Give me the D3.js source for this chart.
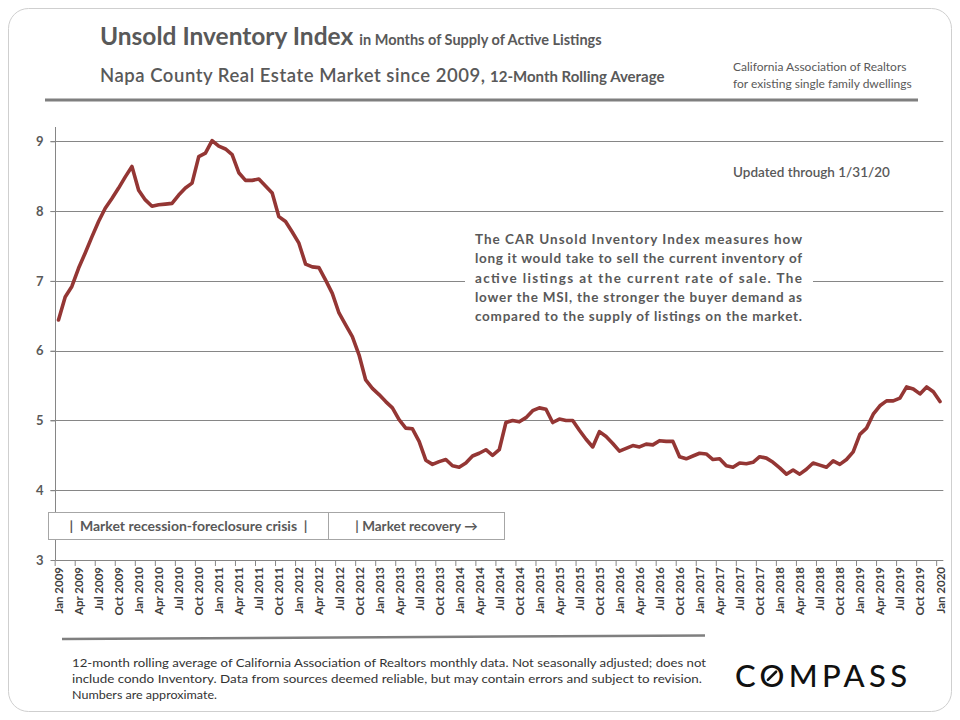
<!DOCTYPE html>
<html><head><meta charset="utf-8">
<script src="https://cdn.jsdelivr.net/npm/d3@7"></script>
<style>
body{margin:0;background:#fff;}
svg{display:block;font-family:Lato,'Open Sans',sans-serif;}
</style>
</head><body>
<svg id="chart" width="960" height="720"></svg>
<script>
// Monthly 12-month rolling MSI, Jan 2009 .. Jan 2020
const msiValues = [
6.44,6.77,6.92,7.18,7.40,7.63,7.85,8.04,8.18,8.33,8.49,8.64,
8.30,8.16,8.07,8.09,8.10,8.11,8.23,8.33,8.40,8.78,8.83,9.01,
8.93,8.89,8.81,8.55,8.44,8.44,8.46,8.36,8.26,7.92,7.85,7.70,
7.54,7.24,7.20,7.19,7.01,6.82,6.54,6.37,6.20,5.94,5.58,5.46,
5.37,5.27,5.18,5.01,4.89,4.88,4.70,4.43,4.37,4.41,4.44,4.35,
4.33,4.39,4.49,4.53,4.58,4.50,4.58,4.97,5.00,4.98,5.04,5.14,
5.18,5.16,4.97,5.02,5.00,5.00,4.86,4.73,4.62,4.84,4.77,4.67,
4.56,4.60,4.64,4.62,4.66,4.65,4.71,4.70,4.70,4.48,4.45,4.49,
4.53,4.52,4.44,4.45,4.35,4.33,4.39,4.38,4.40,4.48,4.46,4.40,
4.32,4.23,4.29,4.23,4.30,4.39,4.36,4.33,4.42,4.37,4.44,4.55,
4.80,4.89,5.09,5.21,5.28,5.28,5.32,5.48,5.45,5.38,5.48,5.41,
5.27
];
const xTickLabels = [
"Jan 2009","Apr 2009","Jul 2009","Oct 2009","Jan 2010","Apr 2010","Jul 2010","Oct 2010",
"Jan 2011","Apr 2011","Jul 2011","Oct 2011","Jan 2012","Apr 2012","Jul 2012","Oct 2012",
"Jan 2013","Apr 2013","Jul 2013","Oct 2013","Jan 2014","Apr 2014","Jul 2014","Oct 2014",
"Jan 2015","Apr 2015","Jul 2015","Oct 2015","Jan 2016","Apr 2016","Jul 2016","Oct 2016",
"Jan 2017","Apr 2017","Jul 2017","Oct 2017","Jan 2018","Apr 2018","Jul 2018","Oct 2018",
"Jan 2019","Apr 2019","Jul 2019","Oct 2019","Jan 2020"
];
const yTickValues = [3,4,5,6,7,8,9];
const noteLines = [
"The CAR Unsold Inventory Index measures how",
"long it would take to sell the current inventory of",
"active  listings  at  the  current  rate  of  sale.  The",
"lower the MSI, the stronger the buyer demand as",
"compared to the supply of listings on the market."
];
const footerLines = [
"12-month rolling average of California Association of Realtors monthly data. Not seasonally adjusted; does not",
"include condo Inventory. Data from sources deemed reliable, but may contain errors and subject to revision.",
"Numbers are approximate."
];
const periodLabels = ["|  Market recession-foreclosure crisis  |", "| Market recovery \u2192"];

const svg = d3.select("#chart");
const grey = "#595959", axisGrey = "#868686";

// outer frame
svg.append("rect").attr("x",8.5).attr("y",8.5).attr("width",943).attr("height",703)
  .attr("rx",20).attr("fill","#fff").attr("stroke","#cfcfcf").attr("stroke-width",1);

// header
const t1 = svg.append("text").attr("x",100).attr("y",45).attr("fill",grey);
t1.append("tspan").attr("font-size",24.5).attr("font-weight",700).text("Unsold Inventory Index");
t1.append("tspan").attr("font-size",14.5).attr("font-weight",700).attr("dx",6).text("in Months of Supply of Active Listings");
const t2 = svg.append("text").attr("x",100).attr("y",82).attr("fill",grey);
t2.append("tspan").attr("font-size",18.5).attr("font-weight",600).attr("textLength",385).attr("lengthAdjust","spacing")
  .text("Napa County  Real Estate Market  since 2009,");
t2.append("tspan").attr("x",490).attr("font-size",15).attr("font-weight",700).text("12-Month Rolling Average");
svg.append("text").attr("x",733).attr("y",71).attr("font-size",12).attr("fill",grey).text("California Association of Realtors");
svg.append("text").attr("x",733).attr("y",88).attr("font-size",12).attr("fill",grey).text("for existing single family dwellings");
svg.append("line").attr("x1",45).attr("x2",918).attr("y1",100).attr("y2",100).attr("stroke","#7f7f7f").attr("stroke-width",3);

// scales
const x = d3.scaleLinear().domain([0, msiValues.length-1]).range([58.5, 940]);
const step = x(1)-x(0);
const y = d3.scaleLinear().domain([3,9]).range([560,141.3]);
const left = 55.5, right = x(msiValues.length-1)+step/2;

// gridlines
svg.append("g").selectAll("line").data(yTickValues.filter(d=>d>3)).join("line")
  .attr("x1",left-5).attr("x2",right).attr("y1",d=>Math.round(y(d))+0.5).attr("y2",d=>Math.round(y(d))+0.5)
  .attr("stroke",axisGrey).attr("stroke-width",1);

// y axis
const yAxis = d3.axisLeft(y).tickValues(yTickValues).tickSize(5).tickPadding(7).tickFormat(d3.format("d"));
const gy = svg.append("g").attr("transform",`translate(${left},0)`).call(yAxis);
gy.select(".domain").remove();
gy.selectAll(".tick line").attr("stroke",axisGrey);
gy.selectAll("text").attr("font-size",13).attr("font-weight",700).attr("fill",grey).attr("font-family","Lato,sans-serif");
svg.append("line").attr("x1",left).attr("x2",left).attr("y1",127).attr("y2",560).attr("stroke",axisGrey);

// x axis
const labelIdx = d3.range(0, msiValues.length, 3);
const xAxis = d3.axisBottom(x).tickValues(labelIdx).tickSize(0).tickFormat((d,i)=>xTickLabels[i]);
const gx = svg.append("g").attr("transform","translate(0,560)").call(xAxis);
gx.select(".domain").remove();
gx.selectAll("text").attr("transform","rotate(-90)").attr("x",-7).attr("y",0).attr("dy","0.35em")
  .attr("text-anchor","end").attr("font-size",11.5).attr("font-weight",700).attr("fill","#404040")
  .attr("font-family","Lato,sans-serif");
svg.append("line").attr("x1",left).attr("x2",right).attr("y1",560.5).attr("y2",560.5).attr("stroke",axisGrey);
svg.append("g").selectAll("line").data(d3.range(0, msiValues.length+1, 3)).join("line")
  .attr("x1",d=>x(d-0.5)).attr("x2",d=>x(d-0.5)).attr("y1",560).attr("y2",566)
  .attr("stroke",axisGrey);

// annotation box
svg.append("rect").attr("x",465).attr("y",228).attr("width",348).attr("height",102).attr("fill","#fff");
svg.append("g").selectAll("text").data(noteLines).join("text")
  .attr("x",475).attr("y",(d,i)=>244+i*19.3)
  .attr("font-size",13.5).attr("font-weight",700).attr("fill",grey)
  .attr("textLength",327).attr("lengthAdjust","spacing").text(d=>d);
svg.append("text").attr("x",733).attr("y",177).attr("font-size",13.5).attr("font-weight",600).attr("fill",grey)
  .text("Updated through 1/31/20");

// period boxes
const boxes = [[48.5,328.5],[328.5,504.5]];
svg.append("g").selectAll("rect").data(boxes).join("rect")
  .attr("x",d=>d[0]).attr("y",512.5).attr("width",d=>d[1]-d[0]).attr("height",27)
  .attr("fill","#fff").attr("stroke","#a6a6a6");
svg.append("g").selectAll("text").data(periodLabels).join("text")
  .attr("x",(d,i)=>(boxes[i][0]+boxes[i][1])/2).attr("y",531).attr("text-anchor","middle")
  .attr("font-size",(d,i)=>i===0?14:13.5).attr("font-weight",700).attr("fill",grey).attr("xml:space","preserve").text(d=>d);

// line
svg.append("path").datum(msiValues)
  .attr("d", d3.line().x((d,i)=>x(i)).y(d=>y(d)))
  .attr("fill","none").attr("stroke","#943634").attr("stroke-width",3.6)
  .attr("stroke-linejoin","round").attr("stroke-linecap","round");

// footer
svg.append("line").attr("x1",62).attr("y1",639).attr("x2",705).attr("y2",635.5).attr("stroke","#7f7f7f").attr("stroke-width",2.5);
svg.append("g").selectAll("text").data(footerLines).join("text")
  .attr("x",72).attr("y",(d,i)=>667+i*16).attr("font-size",11.5).attr("fill","#333")
  .each(function(d,i){ d3.select(this).attr("textLength",[634,630,145][i]).attr("lengthAdjust","spacingAndGlyphs"); })
  .text(d=>d);

// logo
const logo = svg.append("text").attr("x",735).attr("y",687).attr("font-size",31).attr("font-weight",500)
  .attr("fill","#111").attr("textLength",172).attr("lengthAdjust","spacing").text("COMPASS");
try{
  const b = logo.node().getExtentOfChar(1);
  const cx = b.x + b.width/2, cy = 687 - 31*0.36, r = 31*0.22;
  svg.append("line").attr("x1",cx - r*0.6).attr("y1",cy + r*0.6).attr("x2",cx + r*0.6).attr("y2",cy - r*0.6)
    .attr("stroke","#111").attr("stroke-width",2.6).attr("stroke-linecap","round");
}catch(e){}
</script>
</body></html>
